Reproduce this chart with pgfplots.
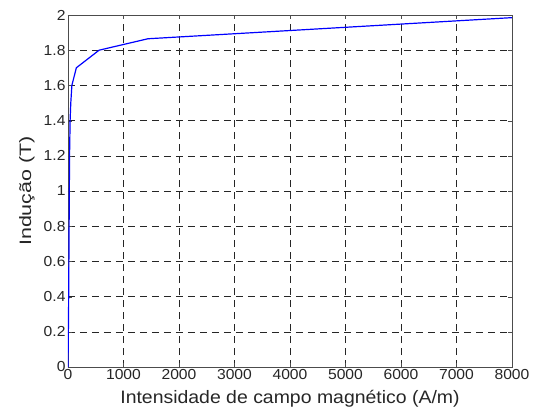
\documentclass[border=0pt]{standalone}
\usepackage{pgfplots}
\pgfplotsset{compat=1.18}
\usepackage{fontspec}
\setmainfont{Liberation Sans}
\newfontfamily\tickfont{Liberation Sans}[FakeStretch=1.08]
\newfontfamily\labfont{Liberation Sans}[FakeStretch=1.08]
\newfontfamily\ylabfont{Liberation Sans}[FakeStretch=1.3]
\begin{document}
\begin{tikzpicture}
\path[use as bounding box] (-68pt,-46pt) rectangle (471pt,367pt);
\begin{axis}[
  at={(0pt,0pt)}, anchor=south west,
  scale only axis, width=444pt, height=352pt,
  xmin=0, xmax=8000, ymin=0, ymax=2,
  xtick={0,1000,...,8000}, ytick={0,0.2,...,2.01},
  yticklabels={0,0.2,0.4,0.6,0.8,1,1.2,1.4,1.6,1.8,2},
  scaled x ticks=false,
  xticklabel style={yshift=1pt, /pgf/number format/.cd,fixed,1000 sep={}},
  /pgf/number format/assume math mode=true,
  tick align=inside, tick pos=both,
  major tick length=4pt,
  grid=major,
  major grid style={black!85, dash pattern=on 7pt off 5pt, line width=0.6pt},
  axis line style={black!70, line width=0.8pt},
  tick style={black!70},
  tick label style={font=\tickfont\fontsize{14.5}{16}\selectfont, text=black!85},
  yticklabel style={xshift=1pt},
  xlabel style={font=\labfont\fontsize{18}{20}\selectfont, text=black!85,
    at={(axis description cs:0.5,-0.105)}, anchor=base},
  ylabel style={font=\ylabfont\fontsize{16.5}{18}\selectfont, text=black!85,
    at={(axis description cs:-0.0833,0.5)}, anchor=base},
  xlabel={Intensidade de campo magnético (A/m)},
  ylabel={Indução (T)},
]
\addplot[blue, line width=1.2pt] coordinates {
(0,0) (10,0.3) (20,0.8) (28,1.2) (38,1.4) (50,1.5) (70,1.6) (150,1.7) (560,1.8) (1440,1.865) (8000,1.985)
};
\end{axis}
\end{tikzpicture}
\end{document}
